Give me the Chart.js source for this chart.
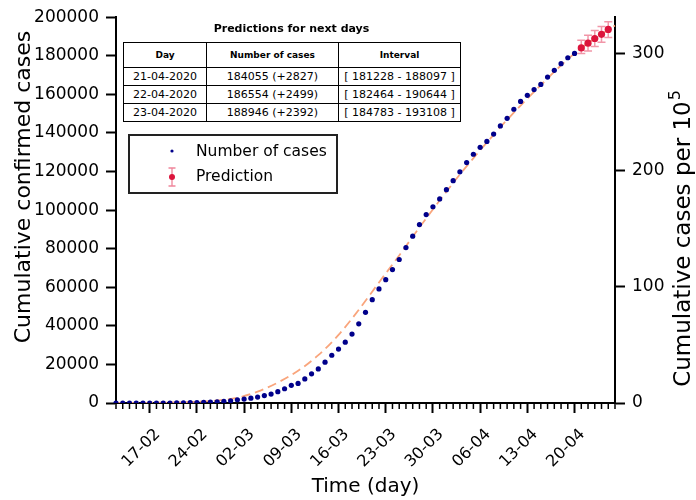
<!DOCTYPE html>
<html>
<head>
<meta charset="utf-8">
<script src="https://cdn.jsdelivr.net/npm/chart.js@4.4.1/dist/chart.umd.min.js"></script>
<style>
  body { margin: 0; background: #fff; }
  #wrap { position: relative; width: 696px; height: 500px; font-family: "DejaVu Sans", sans-serif; }
  #predTitle { position: absolute; left: 123px; width: 337px; top: 22px; text-align: center; font-weight: bold; font-size: 11px; }
  #predTable { position: absolute; left: 123px; top: 42px; border-collapse: collapse; background: #fff; }
  #predTable td, #predTable th { border: 1.5px solid #000; text-align: center; padding: 0; }
  #predTable th { font-size: 9px; font-weight: bold; height: 24px; }
  #predTable td { font-size: 11px; height: 17px; }
</style>
</head>
<body>
<div id="wrap">
  <canvas id="chart" width="696" height="500"></canvas>
  <div id="predTitle">Predictions for next days</div>
  <table id="predTable">
    <thead><tr><th style="width:82px">Day</th><th style="width:131px">Number of cases</th><th style="width:121px">Interval</th></tr></thead>
    <tbody id="predBody"></tbody>
  </table>
</div>
<script>
// Days on the x axis (12-02-2020 .. 26-04-2020)
const days = [
  '12-02','13-02','14-02','15-02','16-02','17-02','18-02','19-02','20-02','21-02','22-02','23-02','24-02','25-02','26-02','27-02','28-02','29-02',
  '01-03','02-03','03-03','04-03','05-03','06-03','07-03','08-03','09-03','10-03','11-03','12-03','13-03','14-03','15-03','16-03','17-03','18-03',
  '19-03','20-03','21-03','22-03','23-03','24-03','25-03','26-03','27-03','28-03','29-03','30-03','31-03',
  '01-04','02-04','03-04','04-04','05-04','06-04','07-04','08-04','09-04','10-04','11-04','12-04','13-04','14-04','15-04','16-04','17-04','18-04',
  '19-04','20-04','21-04','22-04','23-04','24-04','25-04','26-04'
];
const tickLabels = ['17-02','24-02','02-03','09-03','16-03','23-03','30-03','06-04','13-04','20-04'];

// Cumulative confirmed cases, 12-02 .. 20-04
const cases = [
  3, 3, 3, 3, 3, 3, 3, 3, 3, 20, 79, 157, 229, 322, 453, 655, 888, 1128,
  1694, 2036, 2502, 3089, 3858, 4636, 5883, 7375, 9172, 10149, 12462, 15113, 17660, 21157, 24747, 27980, 31506, 35713,
  41035, 47021, 53578, 59138, 63927, 69176, 74386, 80589, 86498, 92472, 97689, 101739, 105792,
  110574, 115242, 119827, 124632, 128948, 132547, 135586, 139422, 143626, 147577, 152271, 156363, 159516, 162488, 165155, 168941, 172434, 175925,
  178972, 181228
];

// Predictions with intervals
const predDays = ['21-04','22-04','23-04','24-04','25-04'];
const predValues = [184055, 186554, 188946, 191100, 193650];
const predLow = [181228, 182464, 184783, 187000, 189500];
const predHigh = [188097, 190644, 193108, 195200, 197600];

// Fitted curve
const fitDays = ['12-02','16-02','20-02','24-02','27-02','01-03','04-03','07-03','10-03','13-03','16-03','19-03','22-03','25-03','28-03','31-03','03-04','06-04','09-04','12-04','15-04','18-04','21-04','24-04','26-04'];
const fitValues = [30, 90, 250, 650, 1300, 2700, 5900, 10600, 16700, 24800, 35300, 48300, 62500, 76500, 91000, 105000, 118500, 131000, 143000, 154200, 164800, 175000, 184055, 191250, 195700];

// Right axis ticks (cases per 100 000 inhabitants)
const rightTicks = [0, 100, 200, 300];

// Table rows
const tableRows = [
  ['21-04-2020', '184055 (+2827)', '[ 181228 - 188097 ]'],
  ['22-04-2020', '186554 (+2499)', '[ 182464 - 190644 ]'],
  ['23-04-2020', '188946 (+2392)', '[ 184783 - 193108 ]']
];

const population = 60360000;
const FONT = '"DejaVu Sans", sans-serif';

const tbody = document.getElementById('predBody');
tableRows.forEach(r => {
  const tr = document.createElement('tr');
  r.forEach(c => { const td = document.createElement('td'); td.textContent = c; tr.appendChild(td); });
  tbody.appendChild(tr);
});

function isMajor(i) { return tickLabels.includes(days[i]); }

// error bars under the prediction points
const errorBars = {
  id: 'errorBars',
  beforeDatasetsDraw(chart) {
    const { ctx, scales: { x, y } } = chart;
    ctx.save();
    ctx.strokeStyle = 'rgba(232,80,110,0.6)';
    ctx.lineWidth = 1.5;
    predDays.forEach((d, i) => {
      const px = x.getPixelForValue(days.indexOf(d));
      const top = y.getPixelForValue(predHigh[i]);
      const bot = y.getPixelForValue(predLow[i]);
      ctx.beginPath();
      ctx.moveTo(px, top); ctx.lineTo(px, bot);
      ctx.moveTo(px - 4, top); ctx.lineTo(px + 4, top);
      ctx.moveTo(px - 4, bot); ctx.lineTo(px + 4, bot);
      ctx.stroke();
    });
    ctx.restore();
  }
};

// short minor ticks, axis titles and the legend box
const decorations = {
  id: 'decorations',
  afterDraw(chart) {
    const { ctx, scales: { x } } = chart;
    const bottom = chart.chartArea.bottom;
    ctx.save();
    ctx.strokeStyle = '#000';
    ctx.lineWidth = 1.5;
    days.forEach((d, i) => {
      if (isMajor(i)) return;
      const px = x.getPixelForValue(i);
      ctx.beginPath(); ctx.moveTo(px, bottom); ctx.lineTo(px, bottom + 6); ctx.stroke();
    });

    ctx.fillStyle = '#000';
    // x title
    ctx.font = '20px ' + FONT;
    ctx.textAlign = 'center';
    ctx.textBaseline = 'alphabetic';
    ctx.fillText('Time (day)', (chart.chartArea.left + chart.chartArea.right) / 2, 492);

    // left title
    ctx.save();
    ctx.translate(30, 187);
    ctx.rotate(-Math.PI / 2);
    ctx.font = '22px ' + FONT;
    ctx.fillText('Cumulative confirmed cases', 0, 0);
    ctx.restore();

    // right title with superscript
    ctx.save();
    ctx.translate(690, 239);
    ctx.rotate(-Math.PI / 2);
    ctx.font = '23px ' + FONT;
    const main = 'Cumulative cases per 10';
    const w1 = ctx.measureText(main).width;
    ctx.font = '16px ' + FONT;
    const w2 = ctx.measureText('5').width;
    const start = -(w1 + w2) / 2;
    ctx.textAlign = 'left';
    ctx.font = '23px ' + FONT;
    ctx.fillText(main, start, 0);
    ctx.font = '16px ' + FONT;
    ctx.fillText('5', start + w1 + 1, -10);
    ctx.restore();

    // legend
    ctx.fillStyle = '#fff';
    ctx.fillRect(129, 135, 208, 58);
    ctx.strokeStyle = '#222';
    ctx.lineWidth = 2;
    ctx.strokeRect(129, 135, 208, 58);
    ctx.fillStyle = '#00008b';
    ctx.beginPath(); ctx.arc(172, 151, 1.6, 0, Math.PI * 2); ctx.fill();
    ctx.strokeStyle = 'rgba(232,80,110,0.7)';
    ctx.lineWidth = 1.3;
    ctx.beginPath();
    ctx.moveTo(172, 168); ctx.lineTo(172, 186);
    ctx.moveTo(168.5, 168); ctx.lineTo(175.5, 168);
    ctx.moveTo(168.5, 186); ctx.lineTo(175.5, 186);
    ctx.stroke();
    ctx.fillStyle = '#dc143c';
    ctx.beginPath(); ctx.arc(172, 177, 3, 0, Math.PI * 2); ctx.fill();
    ctx.fillStyle = '#000';
    ctx.font = '15.5px ' + FONT;
    ctx.textAlign = 'left';
    ctx.textBaseline = 'middle';
    ctx.fillText('Number of cases', 196, 152);
    ctx.fillText('Prediction', 196, 177);
    ctx.restore();
  }
};

const tickFont = { family: FONT, size: 16 };
const yTickFont = { family: FONT, size: 17 };

new Chart(document.getElementById('chart').getContext('2d'), {
  type: 'line',
  data: {
    labels: days,
    datasets: [
      {
        label: 'Number of cases',
        data: cases,
        showLine: false,
        pointRadius: 2.6,
        pointBackgroundColor: '#00008b',
        pointBorderWidth: 0,
        order: 2
      },
      {
        label: 'Prediction',
        data: predDays.map((d, i) => ({ x: d, y: predValues[i] })),
        showLine: false,
        pointRadius: 3.6,
        pointBackgroundColor: '#dc143c',
        pointBorderWidth: 0,
        order: 1
      },
      {
        label: 'Fit',
        data: fitDays.map((d, i) => ({ x: d, y: fitValues[i] })),
        borderColor: '#f9a57c',
        borderWidth: 1.8,
        borderDash: [9, 5],
        pointRadius: 0,
        cubicInterpolationMode: 'monotone',
        order: 3
      }
    ]
  },
  options: {
    responsive: false,
    animation: false,
    layout: { padding: { top: 15 } },
    plugins: { legend: { display: false }, tooltip: { enabled: false } },
    scales: {
      x: {
        type: 'category',
        offset: false,
        border: { color: '#000', width: 2 },
        grid: {
          drawOnChartArea: false,
          tickLength: 10,
          tickWidth: 2,
          tickColor: c => isMajor(c.index) ? '#000' : 'rgba(0,0,0,0)'
        },
        ticks: {
          autoSkip: false,
          minRotation: 45,
          maxRotation: 45,
          color: '#000',
          font: tickFont,
          padding: 12,
          labelOffset: 8,
          callback: function (v, i) { return isMajor(i) ? days[i] : ''; }
        },
        afterFit: s => { s.height = 97; }
      },
      y: {
        min: 0,
        max: 200000,
        border: { color: '#000', width: 2 },
        grid: { drawOnChartArea: false, tickLength: 10, tickWidth: 2, tickColor: '#000' },
        ticks: { stepSize: 20000, color: '#000', font: yTickFont, padding: 7, callback: v => String(v) },
        afterFit: s => { s.width = 116; }
      },
      y2: {
        position: 'right',
        min: 0,
        max: 200000 / population * 100000,
        border: { color: '#000', width: 2 },
        grid: { drawOnChartArea: false, tickLength: 10, tickWidth: 2, tickColor: '#000' },
        ticks: { color: '#000', font: yTickFont, padding: 7, callback: v => String(v) },
        afterBuildTicks: s => { s.ticks = rightTicks.map(v => ({ value: v })); },
        afterFit: s => { s.width = 81; }
      }
    }
  },
  plugins: [errorBars, decorations]
});
</script>
</body>
</html>
